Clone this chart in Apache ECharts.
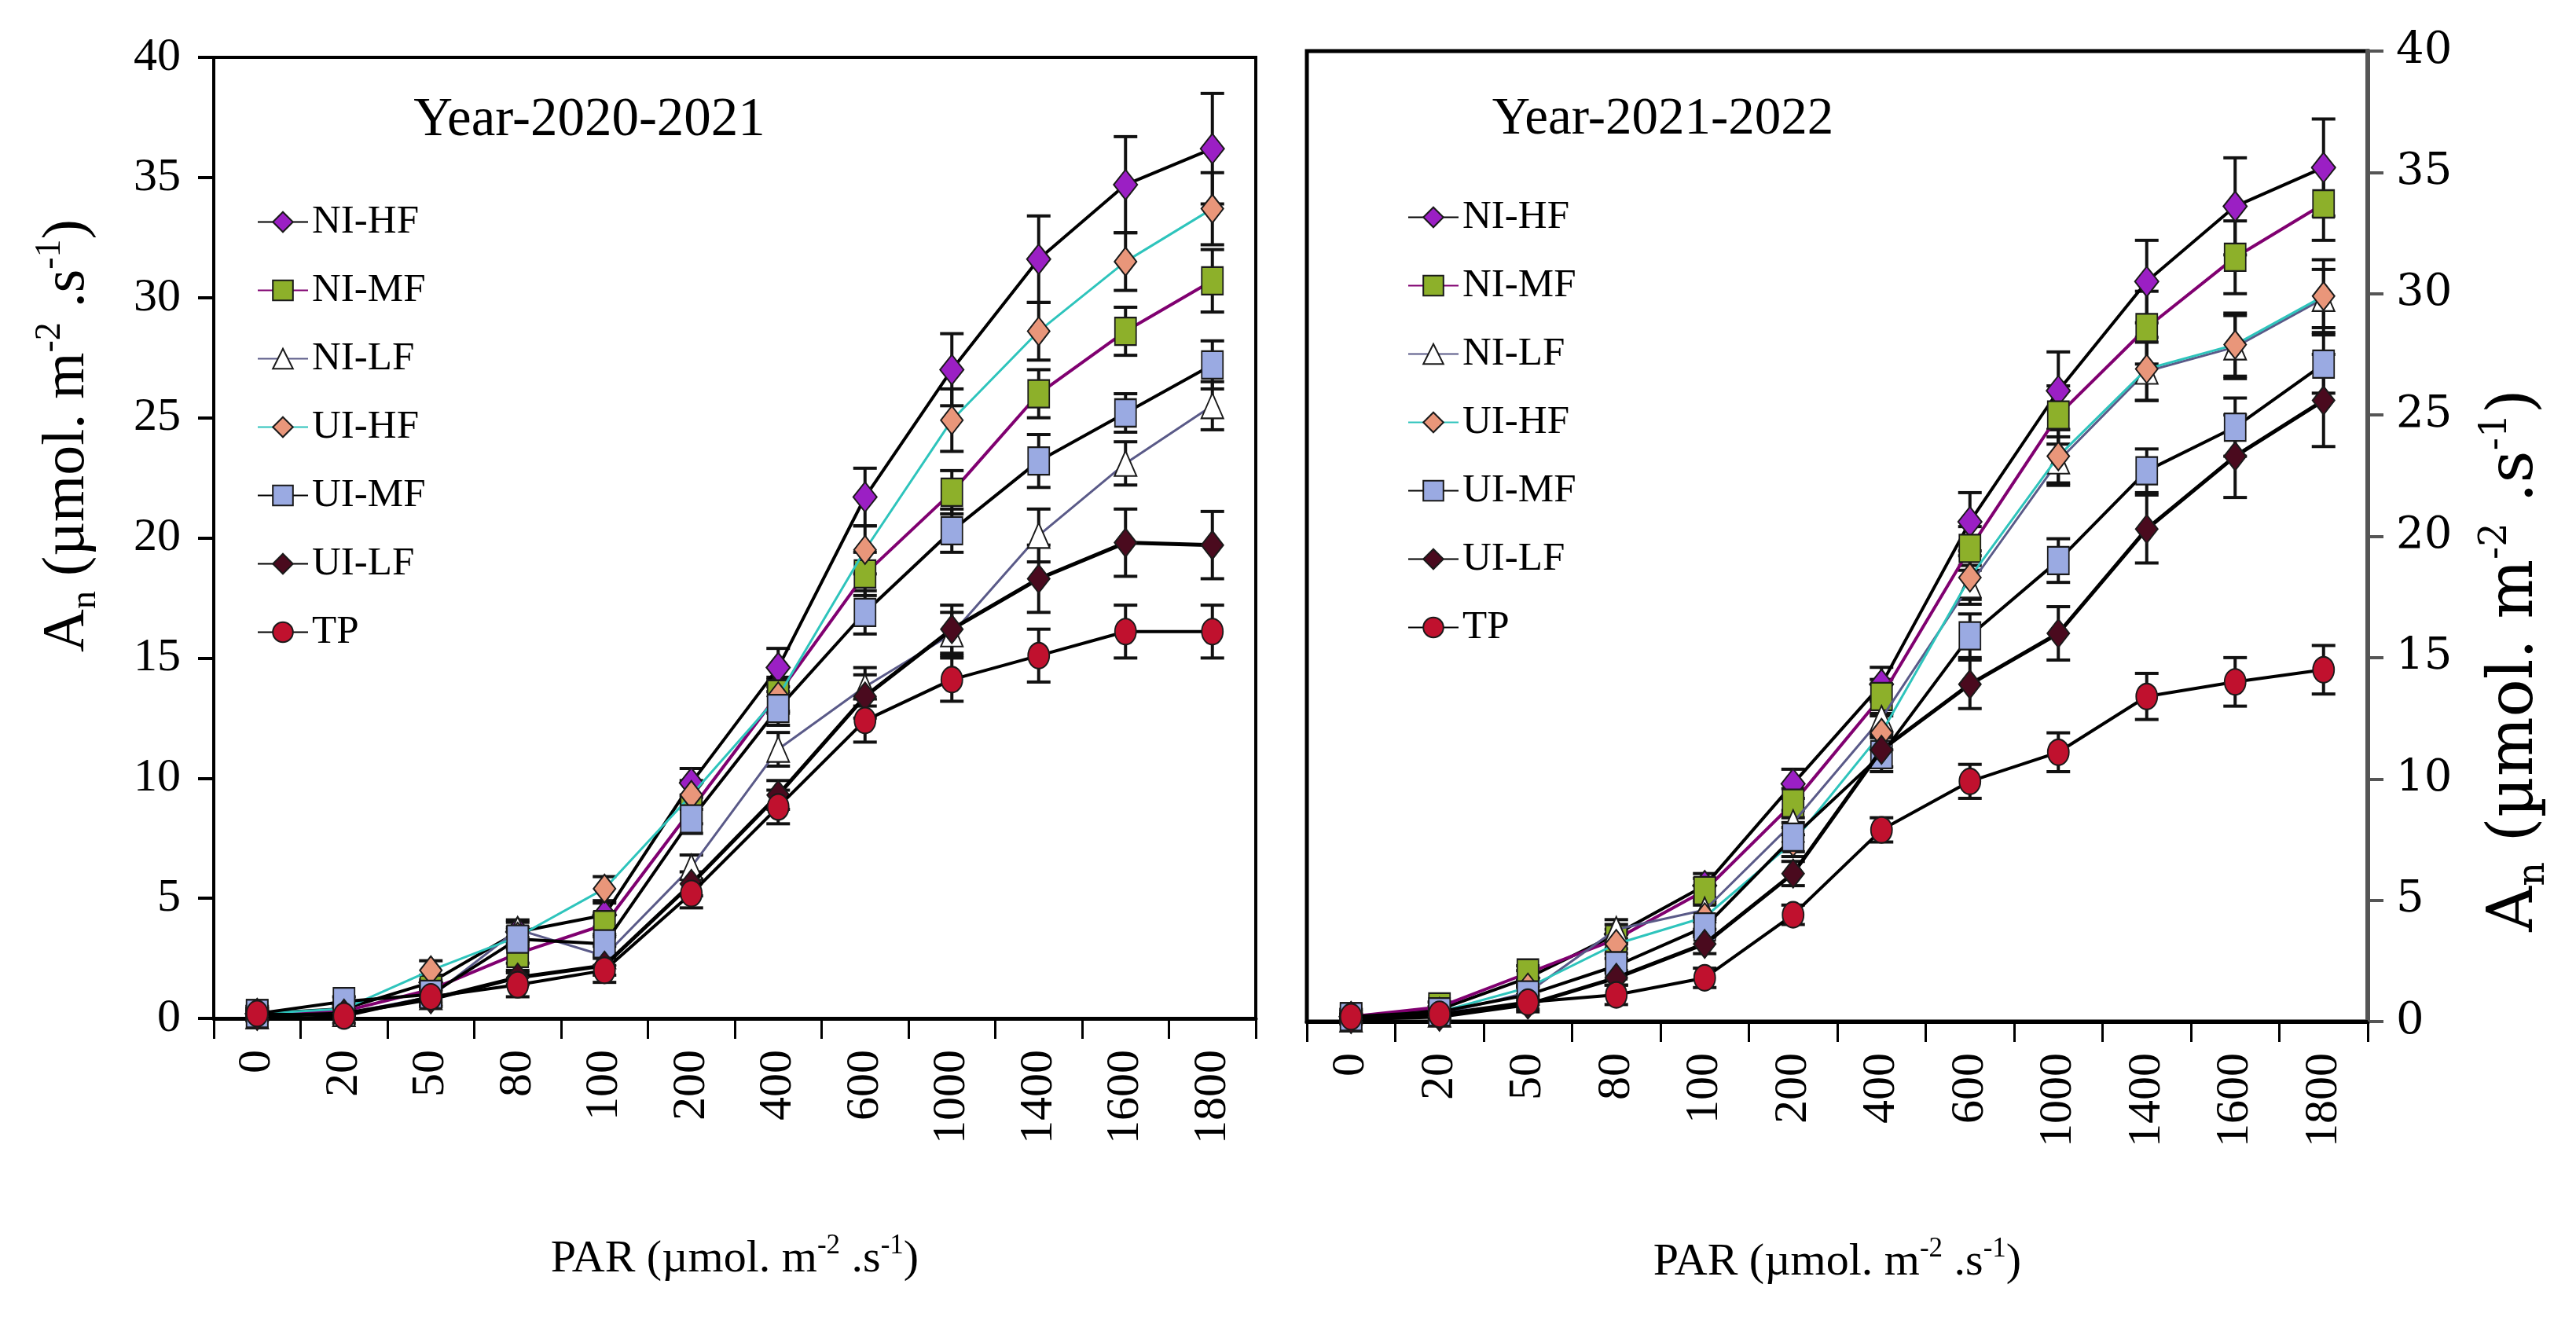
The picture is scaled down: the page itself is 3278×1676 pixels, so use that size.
<!DOCTYPE html>
<html>
<head>
<meta charset="utf-8">
<script src="https://cdn.jsdelivr.net/npm/echarts@6/dist/echarts.min.js"></script>
<style>
html,body{margin:0;padding:0;background:#fff;}
#c{width:3278px;height:1676px;}
</style>
</head>
<body>
<div id="c"></div>
<script>
// ---------- data ----------
const categories = ['0','20','50','80','100','200','400','600','1000','1400','1600','1800'];
const seriesNames = ['NI-HF','NI-MF','NI-LF','UI-HF','UI-MF','UI-LF','TP'];

// Year 2020-2021 (left panel)
const y1_NIHF = [0.2, 0.4, 1.5, 3.6, 4.3, 9.8, 14.6, 21.7, 27.0, 31.6, 34.7, 36.2];
const y1_NIMF = [0.2, 0.3, 1.2, 2.7, 3.9, 8.7, 13.5, 18.5, 21.9, 26.0, 28.6, 30.7];
const y1_NILF = [0.1, 0.2, 0.9, 3.7, 2.6, 6.3, 11.2, 13.8, 16.0, 20.1, 23.1, 25.5];
const y1_UIHF = [0.2, 0.4, 2.0, 3.4, 5.4, 9.3, 13.4, 19.5, 24.9, 28.6, 31.5, 33.7];
const y1_UIMF = [0.2, 0.7, 1.0, 3.3, 3.1, 8.3, 12.9, 16.9, 20.3, 23.2, 25.2, 27.2];
const y1_UILF = [0.1, 0.2, 0.8, 1.7, 2.2, 5.6, 9.3, 13.4, 16.2, 18.3, 19.8, 19.7];
const y1_TP   = [0.2, 0.1, 0.9, 1.4, 2.0, 5.2, 8.8, 12.4, 14.1, 15.1, 16.1, 16.1];

const e1_NIHF = [0.2, 0.2, 0.3, 0.4, 0.5, 0.6, 0.8, 1.2, 1.5, 1.8, 2.0, 2.3];
const e1_NIMF = [0.1, 0.2, 0.3, 0.4, 0.5, 0.6, 0.7, 0.9, 0.9, 1.0, 1.0, 1.3];
const e1_NILF = [0.1, 0.1, 0.3, 0.4, 0.4, 0.5, 0.7, 0.8, 0.9, 1.1, 0.9, 1.0];
const e1_UIHF = [0.2, 0.2, 0.4, 0.4, 0.5, 0.6, 0.7, 1.0, 1.3, 1.2, 1.2, 1.5];
const e1_UIMF = [0.1, 0.2, 0.3, 0.4, 0.4, 0.6, 0.7, 0.9, 0.9, 1.1, 0.8, 1.0];
const e1_UILF = [0.1, 0.1, 0.3, 0.3, 0.4, 0.5, 0.6, 0.9, 1.0, 1.4, 1.4, 1.4];
const e1_TP   = [0.3, 0.3, 0.4, 0.5, 0.5, 0.6, 0.7, 0.9, 0.9, 1.1, 1.1, 1.1];

// Year 2021-2022 (right panel)
const y2_NIHF = [0.2, 0.5, 1.8, 3.6, 5.6, 9.8, 13.9, 20.6, 26.0, 30.5, 33.6, 35.2];
const y2_NIMF = [0.2, 0.6, 2.0, 3.4, 5.4, 9.0, 13.4, 19.5, 25.0, 28.6, 31.5, 33.7];
const y2_NILF = [0.1, 0.3, 1.2, 3.8, 4.6, 8.2, 12.5, 18.0, 23.1, 26.8, 27.8, 29.8];
const y2_UIHF = [0.2, 0.4, 1.4, 3.2, 4.3, 7.4, 11.9, 18.3, 23.3, 26.9, 27.9, 29.9];
const y2_UIMF = [0.2, 0.4, 1.1, 2.3, 3.9, 7.6, 11.0, 15.9, 19.0, 22.7, 24.5, 27.1];
const y2_UILF = [0.1, 0.2, 0.7, 1.8, 3.2, 6.1, 11.2, 13.9, 16.0, 20.3, 23.3, 25.6];
const y2_TP   = [0.2, 0.3, 0.8, 1.1, 1.8, 4.4, 7.9, 9.9, 11.1, 13.4, 14.0, 14.5];

const e2_NIHF = [0.2, 0.3, 0.3, 0.4, 0.5, 0.6, 0.7, 1.2, 1.6, 1.7, 2.0, 2.0];
const e2_NIMF = [0.1, 0.2, 0.3, 0.4, 0.5, 0.6, 0.7, 0.9, 1.2, 1.5, 1.5, 1.5];
const e2_NILF = [0.1, 0.2, 0.3, 0.4, 0.4, 0.5, 0.7, 0.8, 1.0, 1.2, 1.3, 1.2];
const e2_UIHF = [0.1, 0.2, 0.3, 0.4, 0.5, 0.6, 0.7, 0.9, 1.1, 1.3, 1.3, 1.5];
const e2_UIMF = [0.1, 0.2, 0.3, 0.3, 0.4, 0.6, 0.7, 0.9, 0.9, 0.9, 1.2, 1.2];
const e2_UILF = [0.1, 0.2, 0.3, 0.3, 0.4, 0.5, 0.7, 1.0, 1.1, 1.4, 1.7, 1.9];
const e2_TP   = [0.3, 0.3, 0.3, 0.4, 0.4, 0.4, 0.5, 0.7, 0.8, 0.95, 1.0, 1.0];

const yTicks = [0, 5, 10, 15, 20, 25, 30, 35, 40];
const titles = ['Year-2020-2021', 'Year-2021-2022'];

// ---------- styles ----------
const SERIF = "'Liberation Serif','Times New Roman',serif";
const SERIF2 = "'DejaVu Serif','Liberation Serif',serif";
const styles = {
  'NI-HF': {symbol:'diamond',  size:[30,38], fill:'#9B1FC4', line:'#000000', lw:4},
  'NI-MF': {symbol:'rect',     size:[27,35], fill:'#8DB02A', line:'#800070', lw:4},
  'NI-LF': {symbol:'triangle', size:[28,32], fill:'#FFFFFF', line:'#5A5A88', lw:3},
  'UI-HF': {symbol:'diamond',  size:[28,36], fill:'#E9967A', line:'#2EC4BC', lw:3},
  'UI-MF': {symbol:'rect',     size:[27,35], fill:'#9AAAE2', line:'#000000', lw:4},
  'UI-LF': {symbol:'diamond',  size:[28,36], fill:'#4A0A1E', line:'#000000', lw:5},
  'TP':    {symbol:'circle',   size:[27,33], fill:'#C0112E', line:'#000000', lw:4}
};

const panel1 = [y1_NIHF, y1_NIMF, y1_NILF, y1_UIHF, y1_UIMF, y1_UILF, y1_TP];
const err1   = [e1_NIHF, e1_NIMF, e1_NILF, e1_UIHF, e1_UIMF, e1_UILF, e1_TP];
const panel2 = [y2_NIHF, y2_NIMF, y2_NILF, y2_UIHF, y2_UIMF, y2_UILF, y2_TP];
const err2   = [e2_NIHF, e2_NIMF, e2_NILF, e2_UIHF, e2_UIMF, e2_UILF, e2_TP];

function errRender(params, api) {
  const x = api.value(0), y = api.value(1), e = api.value(2);
  const t = api.coord([x, y + e]);
  const b = api.coord([x, y - e]);
  const cap = 15;
  const st = {stroke:'#111', lineWidth:4};
  return {type:'group', children:[
    {type:'line', shape:{x1:t[0], y1:t[1], x2:b[0], y2:b[1]}, style:st},
    {type:'line', shape:{x1:t[0]-cap, y1:t[1], x2:t[0]+cap, y2:t[1]}, style:st},
    {type:'line', shape:{x1:b[0]-cap, y1:b[1], x2:b[0]+cap, y2:b[1]}, style:st}
  ]};
}

const series = [];
[[panel1, err1], [panel2, err2]].forEach(([vals, errs], p) => {
  seriesNames.forEach((n, k) => {
    series.push({
      type:'custom', xAxisIndex:p, yAxisIndex:p, z:2, silent:true,
      renderItem: errRender,
      data: categories.map((c, i) => [i, vals[k][i], errs[k][i]])
    });
  });
  seriesNames.forEach((n, k) => {
    const s = styles[n];
    series.push({
      name:n, type:'line', xAxisIndex:p, yAxisIndex:p, z:3 + k,
      data: vals[k],
      symbol: s.symbol, symbolSize: s.size, showAllSymbol:true,
      lineStyle:{color:s.line, width:s.lw},
      itemStyle:{color:s.fill, borderColor:'#1a1a1a', borderWidth:2},
      emphasis:{disabled:true}
    });
  });
});

const unitRich = (fs, fam) => ({
  a:{fontSize:fs, fontFamily:fam, color:'#000', lineHeight:fs*1.2},
  sub:{fontSize:Math.round(fs*0.6), fontFamily:fam, color:'#000', lineHeight:Math.round(fs*0.6), verticalAlign:'bottom'},
  sup:{fontSize:Math.round(fs*0.6), fontFamily:fam, color:'#000', lineHeight:Math.round(fs*0.6), verticalAlign:'top'}
});
const yName = '{a|A}{sub|n}{a| (µmol. m}{sup|-2}{a| .s}{sup|-1}{a|)}';
const xName = '{a|PAR (µmol. m}{sup|-2}{a| .s}{sup|-1}{a|)}';

function xAxis(gi) {
  return {
    type:'category', gridIndex:gi, data:categories, boundaryGap:true,
    name:xName, nameLocation:'middle', nameGap:272,
    nameTextStyle:{rich:unitRich(58, SERIF)},
    axisLine:{lineStyle:{color:'#000', width:5}},
    axisTick:{show:true, length:26, lineStyle:{color:'#000', width:3}},
    axisLabel:{rotate:90, fontSize:60, fontFamily:SERIF, color:'#000', margin:40, interval:0},
    splitLine:{show:false}
  };
}

const option = {
  animation:false,
  backgroundColor:'#fff',
  title:[
    {text:titles[0], left:745, top:114, textAlign:'center', textStyle:{fontSize:69, fontFamily:SERIF, fontWeight:'normal', color:'#000'}},
    {text:titles[1], left:2111, top:114, textAlign:'center', textStyle:{fontSize:67, fontFamily:SERIF, fontWeight:'normal', color:'#000'}}
  ],
  legend:[
    {data:seriesNames, orient:'vertical', left:322, top:252, itemWidth:64, itemHeight:32, itemGap:36,
     selectedMode:false, textStyle:{fontSize:51, fontFamily:SERIF, color:'#000', lineHeight:50}},
    {data:seriesNames, orient:'vertical', left:1786, top:246, itemWidth:64, itemHeight:32, itemGap:36,
     selectedMode:false, textStyle:{fontSize:51, fontFamily:SERIF, color:'#000', lineHeight:50}}
  ],
  grid:[
    {left:272, top:73, width:1326, height:1223, show:true, borderColor:'#000', borderWidth:4, backgroundColor:'transparent'},
    {left:1663, top:65, width:1350, height:1235, show:true, borderColor:'#000', borderWidth:5, backgroundColor:'transparent'}
  ],
  xAxis:[xAxis(0), xAxis(1)],
  yAxis:[
    {type:'value', gridIndex:0, min:yTicks[0], max:yTicks[yTicks.length-1], interval:5, position:'left',
     name:yName, nameLocation:'middle', nameRotate:90, nameGap:140,
     nameTextStyle:{rich:unitRich(76, SERIF), padding:[0,0,0,260]},
     axisLine:{show:true, lineStyle:{color:'#000', width:4}},
     axisTick:{show:true, length:20, lineStyle:{color:'#000', width:4}},
     axisLabel:{fontSize:60, fontFamily:SERIF, color:'#000', margin:42},
     splitLine:{show:false}},
    {type:'value', gridIndex:1, min:yTicks[0], max:yTicks[yTicks.length-1], interval:5, position:'right',
     name:yName, nameLocation:'middle', nameRotate:90, nameGap:140,
     nameTextStyle:{rich:unitRich(80, SERIF2), padding:[0,316,0,0]},
     axisLine:{show:true, lineStyle:{color:'#555', width:6}},
     axisTick:{show:true, length:20, lineStyle:{color:'#555', width:4}},
     axisLabel:{fontSize:56, fontFamily:SERIF2, color:'#000', margin:36},
     splitLine:{show:false}}
  ],
  series: series
};

const chart = echarts.init(document.getElementById('c'), null, {renderer:'canvas'});
chart.setOption(option);
</script>
</body>
</html>
